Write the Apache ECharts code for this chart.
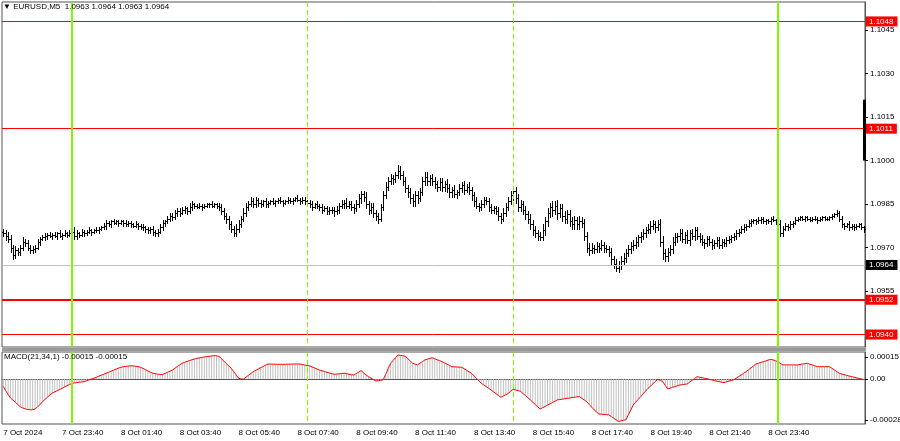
<!DOCTYPE html>
<html><head><meta charset="utf-8">
<script src="https://cdn.jsdelivr.net/npm/echarts@6/dist/echarts.min.js"></script>
<style>html,body{margin:0;padding:0;background:#fff}#c{width:900px;height:441px}</style>
</head><body><div id="c"></div>
<script>
// ---------------- data ----------------
const symbolName = 'EURUSD,M5';
const headerOHLC = ['1.0963', '1.0964', '1.0963', '1.0964'];
const macdTitle = 'MACD(21,34,1)';
const macdHeaderVals = ['-0.00015', '-0.00015'];
const priceBase = 1.0900;          // prices below are pips above this base
const firstOpen = 75.5;
const closePips = [
75,74,73,70,67.5,69,68.5,70,72,71.5,70,69,
69.5,70,72,73,73.5,74,74.5,74,74.5,74,75,74,
74.5,75,74.5,75,75.5,74,75,74.5,75.5,75,75.5,76,
75.5,76,76,76.5,77,77.5,78.5,78,79,78.5,79,78.5,
79,78.5,78,78.5,78,77.5,78,77.5,77,77,76.5,76,
76.5,75.5,75,75.5,77,78.5,79,80,81,80.5,82,82.5,
82,83,83.5,82.5,84,85,84.5,84,84.5,84,84.5,85,
85,84.5,85,84.5,84,82.5,81,80,78,76.5,75,76.5,
78,80,82,84,85,86,85,86.5,85.5,85,86,85,
85.5,86,85.5,86,86.5,86,85.5,86,86.5,86,86.5,87,
86.5,86,86.5,86,85.5,85,84,85,84.5,84,83,83.5,
82.5,83,83,82.5,83,84.5,85,85.5,84.5,85,84,83.5,
85,87,88.5,87.5,85,83,84,82,81,80,84,88,
91,93,94,93.5,95,96.5,95,93,90.5,89,87,86,
88,87,89,93,94.5,93,94,93,92,91,92.5,91,
92,90.5,89,90,88.5,89,90.5,91.5,90,91,90,88,
86,84.5,84,85,86.5,86,84,83,83.5,82.5,81,80,
82,84,86,88,89.5,87,84,85,83,81.5,80,78,
76,75,74,73.5,76,79,82,84,83,84.5,82,83.5,
81,80,81.5,79,78,79.5,78,79,78.5,74,70,69,
70,69.5,70.5,70,71,70,69.5,68.5,66,64.5,63,64,
65.5,66.5,68,69.5,70.5,71,72,73.5,74,75,76,76.5,
77.5,78,77,78,72,68,67,68.5,69.5,72,73.5,74,
75,73,74.5,72.5,75,74,76,74,73,72,71.5,73,
72,71,71.5,72.5,71,72,71.5,72.5,73,73.5,74,75,
75.5,76.5,77,77.5,78.5,79,79.5,79,79.5,80,79,79.5,
79,80,79.5,79,78,75,76.5,77.5,77,78,78.5,79.5,
80,80.5,80,80.5,80,79.5,80,80,79.5,80,80.5,80,
80,80.5,81,81.5,82,80,78,77.5,78,77,77.5,77,
77.5,78,77,76.5
];
const wickUp = [
1,1,1.5,1.5,1,1.5,1,1,1.5,1,1,1,
1,1,1,0.5,1,1,0.5,1,0.5,1,0.5,1,
0.5,1,0.5,1,1,1.5,1,0.5,1,0.5,0.5,1,
0.5,0.5,1,0.5,0.5,1,1,0.5,0.5,1,0.5,0.5,
0.5,0.5,1,0.5,0.5,0.5,1,0.5,0.5,1,0.5,0.5,
0.5,1,0.5,1,1,1,0.5,1,1,1,1,1,
1,1,1,0.5,1.5,1,0.5,0.5,1,0.5,0.5,0.5,
0.5,1,0.5,0.5,1,1,1,1,1,1,1,1.5,
1.5,1,1.5,1.5,1,1.5,1,1,0.5,1,0.5,1,
0.5,0.5,1,0.5,0.5,1,0.5,0.5,1,0.5,0.5,0.5,
1,0.5,1,1,0.5,1,1,0.5,1,0.5,1,1,
1,1,1,1,1.5,1,1.5,1,1.5,1,1,1,
1.5,1.5,1,1,1.5,1,1.5,1.5,1,1,1,1.5,
1.5,1.5,1.5,1,1,2,1.5,1.5,1.5,1,1.5,1.5,
1.5,1.5,1.5,1.5,1.5,1.5,1,1.5,1.5,1,1.5,1.5,
1,1.5,1.5,1,1.5,1,1.5,1,1.5,1,1.5,1,
1,1.5,1,1.5,1,1,1,1,1,1,1.5,1,
1.5,1.5,1.5,1.5,1,1.5,1.5,1.5,1,1.5,1,1.5,
1.5,1.5,1,1.5,2,1.5,1.5,1.5,2,1.5,2,1.5,
1.5,1.5,1.5,1.5,1.5,1.5,1,2,1.5,1.5,1.5,1.5,
1.5,1,1.5,1,1.5,1,1,1,1.5,1,1.5,1.5,
1.5,1.5,1.5,1.5,1.5,1.5,1.5,1,1.5,1.5,1,1.5,
1.5,1.5,1,1.5,2,2,1.5,1.5,1.5,1.5,1.5,1,
1.5,1.5,1,1.5,1,1.5,1,1,1,1.5,1,1,
1,1,1,1,1,1,1,1,1,1,1,1,
1,1,1,0.5,1,1,0.5,0.5,1,0.5,0.5,0.5,
0.5,0.5,1,0.5,0.5,1.5,1,1,0.5,1,0.5,1,
0.5,0.5,0.5,0.5,0.5,0.5,0.5,1,0.5,0.5,0.5,0.5,
0.5,0.5,0.5,0.5,1,0.5,1,0.5,0.5,1,0.5,0.5,
0.5,0.5,0.5,0.5
];
const wickDn = [
1,1.5,1,1.5,1.5,1,1,1,1,1,1,1,
1,1,0.5,1,0.5,1,1,0.5,1,0.5,1,0.5,
1,0.5,1,0.5,1.5,1,1,1,0.5,1,0.5,0.5,
1,0.5,0.5,1,0.5,0.5,1,0.5,1,0.5,0.5,1,
0.5,1,0.5,0.5,1,0.5,0.5,1,0.5,1,1,1,
1,1,1,1,0.5,1,1,0.5,1,1,0.5,1,
1,0.5,1,1,0.5,1,1,0.5,0.5,1,0.5,0.5,
1,0.5,0.5,1,1,1,1,1.5,1.5,1,1,1,
1,1,1,1,1,0.5,1,1,1,1,0.5,1,
1,0.5,0.5,1,0.5,0.5,1,0.5,0.5,0.5,1,0.5,
0.5,1,0.5,1,1,1,1,0.5,1,1,1,0.5,
1,1,1,1.5,1,1,1,1.5,1,1,1,1.5,
1,1,1.5,1.5,1.5,1.5,1,1.5,1.5,1.5,1,1,
1,1,1,1.5,1,1,1.5,1.5,1.5,1.5,1.5,1.5,
1.5,1.5,1,1,1.5,1.5,1.5,1.5,1.5,1.5,1,1.5,
1.5,1.5,1.5,1.5,1,1.5,1,1.5,1.5,1,1.5,1.5,
1.5,1,1.5,1,1,1,1.5,1,1,1,1.5,1.5,
1,1,1,1,1.5,1.5,1.5,1.5,1.5,1.5,1.5,1.5,
1.5,1.5,1.5,1,1,1.5,1.5,1.5,2,1.5,2,1.5,
2,1.5,1.5,1.5,1.5,1.5,1.5,1.5,1.5,1.5,1.5,1.5,
1,1.5,1,1.5,1,1.5,1,1.5,1.5,1.5,1,1.5,
1.5,1,1.5,1,1.5,1.5,1,1.5,1.5,1,1.5,1,
1.5,1,1.5,1,1.5,2,1.5,1.5,1,1.5,1,1.5,
1.5,1,1.5,1,1.5,1,1.5,1,1,1,1.5,1,
1,1.5,1,1,1,1,1,1,1,1,1,1,
1,0.5,1,1,0.5,1,0.5,1,0.5,1,0.5,1,
0.5,1,0.5,1,1,1,1,0.5,1,0.5,1,0.5,
0.5,0.5,0.5,1,0.5,0.5,0.5,0.5,1,0.5,0.5,0.5,
0.5,0.5,0.5,0.5,0.5,1,1,1,0.5,1,0.5,1,
0.5,0.5,0.5,1
];
// MACD histogram / signal, in units of 0.00001
const macd = [
-5,-8,-10.5,-13,-14.5,-16,-17.5,-19,-19.8,-20.4,-20.8,-21,
-21,-20.5,-19,-17.5,-15.5,-14,-12.5,-11,-9.6,-8.8,-8,-7.2,
-6.4,-5.5,-4.6,-3.8,-3,-2.7,-2.5,-2.2,-2,-1.8,-1.2,-0.6,
0,0.5,1.2,1.9,2.6,3.2,3.9,4.6,5.3,6,6.7,7.4,
8,8.3,8.6,8.8,9,8.9,8.7,8.4,8,7.2,6.4,5.5,
4.7,3.9,3.6,3.3,3.1,3,3.8,4.5,5.3,6.1,7.3,8.5,
9.6,10.7,11.4,12,12.6,13.1,13.6,14.1,14.4,14.7,15,15.3,
15.5,15.7,15.9,15.8,15.4,13.8,12.2,10.5,8.9,7.3,5,2.8,
0.5,0,0,1.2,2.5,3.8,5,5.9,6.8,7.7,8.5,9.4,
10.2,10.2,10.1,10.1,10,10,10,10,10.1,10.1,10.2,10.2,
10.2,10.2,9.9,9.5,9.2,8.9,8.2,7.5,6.8,6.1,5.6,5.1,
4.6,4.1,3.6,3.2,3.4,3.5,3.7,3.9,3.6,3.2,2.9,2.7,
3.7,4.7,5.7,4.2,2.7,1.6,0.6,-0.4,-1.4,-1.2,-0.9,-0.5,
3.2,7,10.7,12.6,14.5,16.4,16.1,15.8,15.5,13.9,12.3,10.7,
10.1,9.6,10.7,11.9,13,13.5,14,14.5,13.8,13.1,12.5,11.8,
11,10.1,9.3,8.4,8.3,8.2,8.1,8,7,6,4.9,3.9,
2.2,0.4,-1.3,-3,-4.1,-5.2,-6.4,-7.5,-8.8,-10,-11.3,-12.5,
-11.6,-10.7,-9.8,-8.4,-7,-7.5,-8,-8.4,-9.9,-11.3,-12.8,-14.3,
-15.9,-17.4,-19,-20.5,-19.6,-18.8,-17.9,-17,-16.1,-15.2,-14.3,-14,
-13.8,-13.5,-13.2,-13,-12.7,-12.5,-12.2,-12,-13.2,-14.3,-15.5,-17.3,
-19.2,-21,-22.5,-23.9,-24,-24.2,-24.3,-24.5,-25.6,-26.7,-27.9,-29,
-28.6,-28.2,-27.8,-24.4,-21,-17.7,-15.8,-13.9,-12,-10.2,-8.3,-6.4,
-4.9,-3.3,-1.8,-0.2,-1,-1.8,-4.3,-6.8,-6.3,-5.7,-5.2,-4.6,
-4.1,-3.9,-3.6,-3.4,-2.1,-0.9,0.4,1.6,1.2,0.9,0.5,0.2,
-0.2,-0.6,-1.1,-1.5,-1.8,-2.2,-2.5,-2,-1.5,-1,-0.5,0.6,
1.7,2.8,3.9,5,6.3,7.6,8.9,10.2,10.7,11.3,11.8,12.3,
12.9,13.4,13,12.5,11.5,10.6,9.6,9.6,9.6,9.6,9.6,9.6,
9.6,9.9,10.2,10.4,10.7,10.1,9.6,9,8.4,8.4,8.4,8.4,
8.4,8.4,7.3,6.2,5,3.9,3.4,3,2.5,2,1.6,1.2,
0.8,0.4,0,-0.3
];
const priceTicks = [1.0955, 1.0970, 1.0985, 1.1000, 1.1015, 1.1030, 1.1045];
const macdTicks = [15, 0, -28];
const levelLines = [1.1048, 1.1011, 1.0952, 1.0940];
const currentPrice = 1.0964;
const axisMarker = [1.1000, 1.1021];
const dayStartBars = [28, 316];     // 8 Oct 00:00, 9 Oct 00:00
const sessionBars = [124, 208];     // 8 Oct 08:00, 8 Oct 15:00
const timeLabels = ['7 Oct 2024','7 Oct 23:40','8 Oct 01:40','8 Oct 03:40','8 Oct 05:40',
  '8 Oct 07:40','8 Oct 09:40','8 Oct 11:40','8 Oct 13:40','8 Oct 15:40','8 Oct 17:40',
  '8 Oct 19:40','8 Oct 21:40','8 Oct 23:40','9 Oct 01:40'];
const labelEvery = 24;

// ---------------- build ----------------
const FONT = 'Liberation Sans, Arial, sans-serif';
const N = closePips.length;
const cats = closePips.map((_, i) => String(i));
const toP = p => +(priceBase + p / 10000).toFixed(5);
const ohlc = closePips.map((c, i) => {
  const o = i === 0 ? firstOpen : closePips[i - 1];
  const h = Math.max(o, c) + wickUp[i];
  const l = Math.min(o, c) - wickDn[i];
  return [i, toP(o), toP(h), toP(l), toP(c)];
});
// [barIndex, kind] kind 0 = day start (solid), 1 = session (dashed)
const vlineData = [...dayStartBars.map(i => [i, 0]), ...sessionBars.map(i => [i, 1])];

const chart = echarts.init(document.getElementById('c'), null, {renderer: 'canvas'});

function renderOHLC(params, api) {
  const idx = api.value(0);
  const px = Math.round(api.coord([idx, api.value(1)])[0]) + 0.5;
  const oy = Math.round(api.coord([idx, api.value(1)])[1]) + 0.5;
  const hy = Math.round(api.coord([idx, api.value(2)])[1]);
  const ly = Math.round(api.coord([idx, api.value(3)])[1]) + 1;
  const cy = Math.round(api.coord([idx, api.value(4)])[1]) + 0.5;
  const st = {stroke: '#000', lineWidth: 1};
  return {type: 'group', children: [
    {type: 'line', shape: {x1: px, y1: hy, x2: px, y2: ly}, style: st},
    {type: 'line', shape: {x1: px - 1.5, y1: oy, x2: px, y2: oy}, style: st},
    {type: 'line', shape: {x1: px, y1: cy, x2: px + 1.5, y2: cy}, style: st}
  ]};
}

function renderVLine(params, api) {
  const cs = params.coordSys;
  const kind = api.value(1);
  const raw = api.coord([api.value(0), 0])[0];
  if (kind === 0) {
    const x = Math.round(raw);
    return {type: 'line', shape: {x1: x, y1: cs.y, x2: x, y2: cs.y + cs.height},
      style: {stroke: '#7CFC00', lineWidth: 2, fill: null, opacity: 1}};
  }
  // dashed: explicit 1px-wide dash segments (5 on, 3 off)
  const x = Math.round(raw);
  const segs = [];
  for (let y = cs.y; y < cs.y + cs.height; y += 8) {
    segs.push({type: 'rect', shape: {x: x, y: y, width: 1, height: Math.min(5, cs.y + cs.height - y)},
      style: {fill: '#7CFC00', stroke: null, opacity: 1}});
  }
  return {type: 'group', children: segs};
}

const boxLabel = (bg) => ({
  show: true, position: 'end', distance: 1,
  formatter: p => Number(p.value).toFixed(4),
  backgroundColor: bg, color: '#fff', fontSize: 8, fontFamily: FONT,
  padding: [1, 4, 1, 3]
});

const option = {
  animation: false,
  backgroundColor: '#fff',
  title: [
    {text: '\u25BC ' + symbolName + '  ' + headerOHLC.join(' '), left: 3, top: 3, padding: 0,
     textStyle: {fontSize: 8, fontWeight: 'normal', color: '#000', fontFamily: FONT}},
    {text: macdTitle + ' ' + macdHeaderVals.join(' '), left: 4, top: 353, padding: 0,
     textStyle: {fontSize: 8, fontWeight: 'normal', color: '#000', fontFamily: FONT}}
  ],
  grid: [
    {left: 2, top: 2, right: 35, height: 345, show: true, borderColor: '#555', borderWidth: 1,
     backgroundColor: 'transparent', containLabel: false, outerBoundsMode: 'none'},
    {left: 2, top: 352, right: 35, height: 72, show: true, borderColor: '#555', borderWidth: 1,
     backgroundColor: 'transparent', containLabel: false, outerBoundsMode: 'none'}
  ],
  xAxis: [
    {type: 'category', gridIndex: 0, data: cats, boundaryGap: true,
     axisLine: {show: false}, axisTick: {show: false}, axisLabel: {show: false}, splitLine: {show: false}},
    {type: 'category', gridIndex: 1, data: cats, boundaryGap: true,
     axisLine: {show: true, lineStyle: {color: '#555'}}, axisTick: {show: false}, splitLine: {show: false},
     axisLabel: {interval: labelEvery - 1, showMaxLabel: false, align: 'left', margin: 5,
       fontSize: 8, color: '#000', fontFamily: FONT,
       formatter: (v, i) => (i % labelEvery === 0 && timeLabels[i / labelEvery]) ? timeLabels[i / labelEvery] : ''}}
  ],
  yAxis: [
    {type: 'value', gridIndex: 0, position: 'right', min: 1.09357, max: 1.10547,
     splitLine: {show: false},
     axisLine: {show: true, lineStyle: {color: '#555'}},
     axisTick: {show: true, customValues: priceTicks, length: 3, lineStyle: {color: '#000'}},
     axisLabel: {customValues: priceTicks, formatter: v => Number(v).toFixed(4), margin: 5,
       fontSize: 8, color: '#000', fontFamily: FONT}},
    {type: 'value', gridIndex: 1, position: 'right', min: -30.7, max: 18.4,
     splitLine: {show: false},
     axisLine: {show: true, lineStyle: {color: '#555'}},
     axisTick: {show: true, customValues: macdTicks, length: 3, lineStyle: {color: '#000'}},
     axisLabel: {customValues: macdTicks, margin: 5, fontSize: 8, color: '#000', fontFamily: FONT,
       formatter: v => v === 0 ? '0.00' : (v / 100000).toFixed(5)}}
  ],
  graphic: [
    {type: 'rect', shape: {x: 2, y: 348, width: 864, height: 3}, style: {fill: '#9a9a9a'}, z: 100}
  ],
  series: [
    {type: 'custom', name: 'price', xAxisIndex: 0, yAxisIndex: 0, data: ohlc,
     renderItem: renderOHLC, encode: {x: 0, y: [1, 2, 3, 4]}, z: 2, silent: true},
    {type: 'line', name: 'levels', xAxisIndex: 0, yAxisIndex: 0, data: [], silent: true, z: 5,
     showSymbol: false, symbol: 'none', lineStyle: {opacity: 0},
     markLine: {symbol: ['none', 'none'], silent: true, animation: false, precision: 5, data: [
       ...levelLines.map(v => ({yAxis: v, lineStyle: {color: '#FF0000', width: v === 1.0952 ? 2 : 1, type: 'solid'},
         label: boxLabel('#FF0000')})),
       {yAxis: currentPrice, lineStyle: {color: '#C0C0C0', width: 1, type: 'solid'}, label: boxLabel('#000')},
       [{coord: [N - 1, axisMarker[0]], lineStyle: {color: '#000', width: 3, type: 'solid'}, label: {show: false}},
        {coord: [N - 1, axisMarker[1]]}]
     ]}},
    {type: 'custom', name: 'vlines-main', xAxisIndex: 0, yAxisIndex: 0, data: vlineData,
     renderItem: renderVLine, encode: {x: 0}, z: 6, silent: true, clip: false},
    {type: 'bar', name: 'hist', xAxisIndex: 1, yAxisIndex: 1, data: macd, barWidth: 1,
     itemStyle: {color: '#C0C0C0'}, silent: true, z: 2},
    {type: 'line', name: 'signal', xAxisIndex: 1, yAxisIndex: 1, data: macd,
     showSymbol: false, symbol: 'none', lineStyle: {color: '#FF0000', width: 1}, silent: true, z: 3},
    {type: 'custom', name: 'vlines-macd', xAxisIndex: 1, yAxisIndex: 1, data: vlineData,
     renderItem: renderVLine, encode: {x: 0}, z: 6, silent: true, clip: false}
  ]
};
chart.setOption(option);
</script>
</body></html>
